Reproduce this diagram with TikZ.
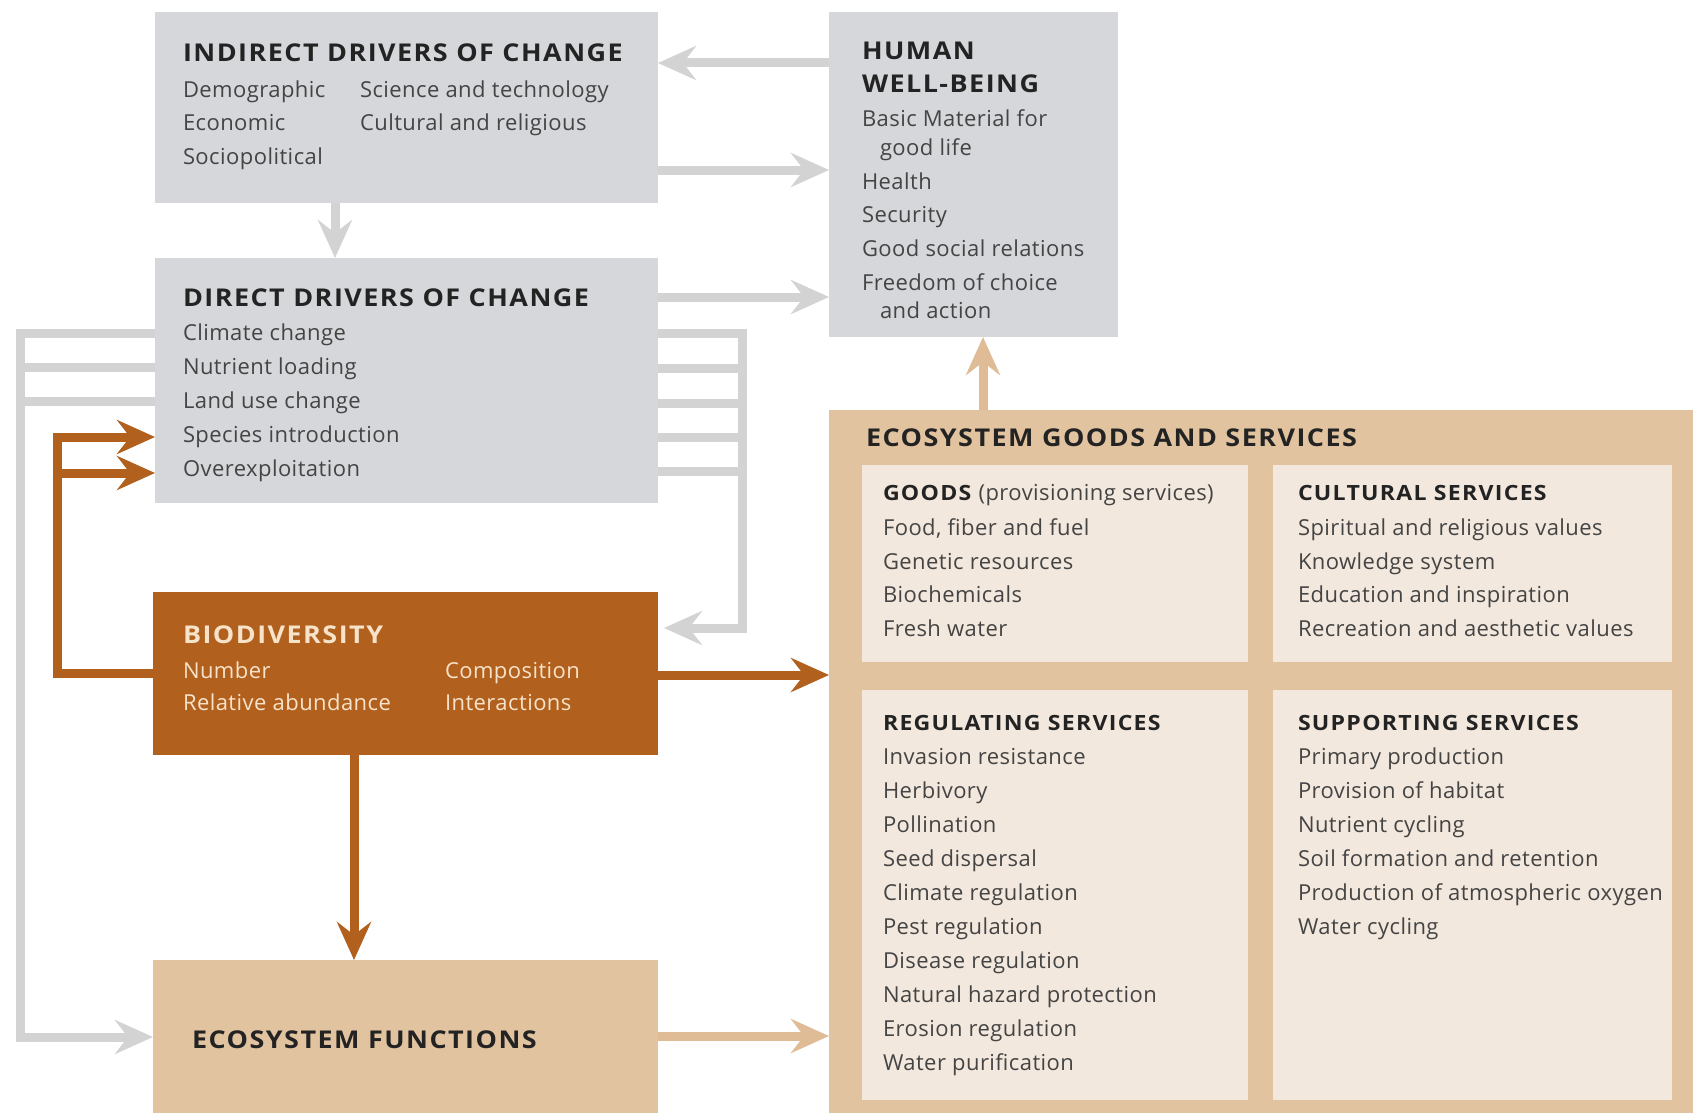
\documentclass[tikz,border=0pt]{standalone}
\usepackage{fontspec}
\setmainfont{Open Sans}
\newfontfamily\ttlfont[LetterSpace=6,FakeStretch=1.1]{Open Sans}
\newfontfamily\sttlfont[LetterSpace=6,FakeStretch=1.1]{Open Sans}
\newfontfamily\bodyfont[LetterSpace=2]{Open Sans}
\usetikzlibrary{arrows.meta}
\definecolor{boxgray}{HTML}{D5D7DA}
\definecolor{linegray}{HTML}{D3D3D4}
\definecolor{brn}{HTML}{B2601E}
\definecolor{tanc}{HTML}{E2C3A0}
\definecolor{tanarrow}{HTML}{E0BC96}
\definecolor{creambox}{HTML}{F3E8DD}
\definecolor{txt}{HTML}{444444}
\definecolor{ttltxt}{HTML}{232323}
\definecolor{lighttxt}{HTML}{F7E3CA}
\tikzset{
  box/.style={rectangle, draw=none, inner sep=0pt, outer sep=0pt, anchor=north west},
  body/.style={anchor=base west, inner sep=0pt, outer sep=0pt, text=txt, font=\bodyfont\fontsize{22}{26}\selectfont},
  ttl/.style={anchor=base west, inner sep=0pt, outer sep=0pt, text=ttltxt, font=\ttlfont\bfseries\fontsize{24.5}{28}\selectfont},
  sttl/.style={anchor=base west, inner sep=0pt, outer sep=0pt, text=ttltxt, font=\sttlfont\bfseries\fontsize{21}{25}\selectfont},
  gline/.style={line width=9pt, draw=linegray, line join=miter},
  tipA/.style={-{Stealth[length=38pt,width=34pt,inset=13pt]}},
  garrow/.style={gline, tipA},
  bline/.style={line width=9pt, draw=brn, line join=miter},
  barrow/.style={bline, tipA},
  tarrow/.style={line width=9pt, draw=tanarrow, tipA},
}
\begin{document}
\begin{tikzpicture}[x=1pt,y=-1pt]
\useasboundingbox (0,0) rectangle (1693,1113);
\fill[white] (0,0) rectangle (1693,1113);

% boxes
\node[box, fill=boxgray, minimum width=503pt, minimum height=191pt] (ind) at (155,12) {};
\node[box, fill=boxgray, minimum width=289pt, minimum height=325pt] (hwb) at (829,12) {};
\node[box, fill=boxgray, minimum width=503pt, minimum height=245pt] (dd) at (155,258) {};
\node[box, fill=brn, minimum width=505pt, minimum height=163pt] (bio) at (153,592) {};
\node[box, fill=tanc, minimum width=505pt, minimum height=153pt] (ef) at (153,960) {};
\node[box, fill=tanc, minimum width=864pt, minimum height=703pt] (egs) at (829,410) {};
\node[box, fill=creambox, minimum width=386pt, minimum height=197pt] (goods) at (862,465) {};
\node[box, fill=creambox, minimum width=399pt, minimum height=197pt] (cult) at (1273,465) {};
\node[box, fill=creambox, minimum width=386pt, minimum height=410pt] (reg) at (862,690) {};
\node[box, fill=creambox, minimum width=399pt, minimum height=410pt] (supp) at (1273,690) {};

% helper coordinates
\coordinate (h1) at (0,63);
\coordinate (h2) at (0,170);
\coordinate (h3) at (0,297);
\coordinate (v1) at (335,0);
\coordinate (v2) at (983,0);
\coordinate (v3) at (354,0);
\coordinate (h4) at (0,675);
\coordinate (h5) at (0,1036);
\coordinate (lx1) at (20,333);
\coordinate (lx2) at (20,367);
\coordinate (lx3) at (20,401);
\coordinate (lbot) at (20,1037);
\coordinate (rx1) at (742,333);
\coordinate (rx2) at (742,368);
\coordinate (rx3) at (742,403);
\coordinate (rx4) at (742,437);
\coordinate (rx5) at (742,471);
\coordinate (rbot) at (742,628);
\coordinate (fb1) at (57,437);
\coordinate (fb2) at (57,473);
\coordinate (fbb) at (57,673);

% connectors
\draw[garrow] (hwb.west |- h1) -- (ind.east |- h1);
\draw[garrow] (ind.east |- h2) -- (hwb.west |- h2);
\draw[garrow] (dd.east |- h3) -- (hwb.west |- h3);
\draw[garrow] (ind.south -| v1) -- (dd.north -| v1);
\draw[tarrow] (egs.north -| v2) -- (hwb.south -| v2);
\draw[barrow] (bio.east |- h4) -- (egs.west |- h4);
\draw[barrow] (bio.south -| v3) -- (ef.north -| v3);
\draw[tarrow] (ef.east |- h5) -- (egs.west |- h5);

\draw[garrow] (dd.west |- lx1) -- (lx1) -- (lbot) -- (ef.west |- lbot);
\draw[gline] (dd.west |- lx2) -- (lx2);
\draw[gline] (dd.west |- lx3) -- (lx3);

\draw[garrow, shorten >=6pt] (dd.east |- rx1) -- (rx1) -- (rbot) -- (bio.east |- rbot);
\draw[gline] (dd.east |- rx2) -- (rx2);
\draw[gline] (dd.east |- rx3) -- (rx3);
\draw[gline] (dd.east |- rx4) -- (rx4);
\draw[gline] (dd.east |- rx5) -- (rx5);

\draw[barrow] (bio.west |- fbb) -- (fbb) -- (fb1) -- (dd.west |- fb1);
\draw[barrow] (fb2) -- (dd.west |- fb2);

% texts: indirect drivers
\node[ttl] (ind-t) at (183,62) {INDIRECT DRIVERS OF CHANGE};
\node[body] (ind-1) at (183,98) {Demographic};
\node[body] (ind-2) at (183,131) {Economic};
\node[body] (ind-3) at (183,164) {Sociopolitical};
\node[body] (ind-4) at (360,98) {Science and technology};
\node[body] (ind-5) at (360,131) {Cultural and religious};

% human well-being
\node[ttl] (hwb-t1) at (862,60) {HUMAN};
\node[ttl] (hwb-t2) at (862,93) {WELL-BEING};
\node[body] (hwb-1) at (862,127) {Basic Material for};
\node[body] (hwb-2) at (880,155) {good life};
\node[body] (hwb-3) at (862,189) {Health};
\node[body] (hwb-4) at (862,222) {Security};
\node[body] (hwb-5) at (862,256) {Good social relations};
\node[body] (hwb-6) at (862,290) {Freedom of choice};
\node[body] (hwb-7) at (880,318) {and action};

% direct drivers
\node[ttl] (dd-t) at (183,306) {DIRECT DRIVERS OF CHANGE};
\foreach \t [count=\i] in {Climate change, Nutrient loading, Land use change, Species introduction, Overexploitation}
  \node[body] (dd-\i) at (183,{306+34*\i}) {\t};

% biodiversity
\node[ttl, text=lighttxt] (bio-t) at (183,643) {BIODIVERSITY};
\node[body, text=lighttxt] (bio-1) at (183,678) {Number};
\node[body, text=lighttxt] (bio-2) at (183,710) {Relative abundance};
\node[body, text=lighttxt] (bio-3) at (445,678) {Composition};
\node[body, text=lighttxt] (bio-4) at (445,710) {Interactions};

% ecosystem functions
\node[ttl] (ef-t) at (192,1048) {ECOSYSTEM FUNCTIONS};

% ecosystem goods and services
\node[ttl] (egs-t) at (866,446) {ECOSYSTEM GOODS AND SERVICES};

\node[sttl] (goods-t) at (883,500) {GOODS {\bodyfont\mdseries\fontsize{22}{26}\selectfont\color{txt} (provisioning services)}};
\foreach \t [count=\i] in {{Food, fiber and fuel}, Genetic resources, Biochemicals, Fresh water}
  \node[body] (goods-\i) at (883,{502+33.5*\i}) {\t};

\node[sttl] (cult-t) at (1298,500) {CULTURAL SERVICES};
\foreach \t [count=\i] in {Spiritual and religious values, Knowledge system, Education and inspiration, Recreation and aesthetic values}
  \node[body] (cult-\i) at (1298,{502+33.5*\i}) {\t};

\node[sttl] (reg-t) at (883,730) {REGULATING SERVICES};
\foreach \t [count=\i] in {Invasion resistance, Herbivory, Pollination, Seed dispersal, Climate regulation, Pest regulation, Disease regulation, Natural hazard protection, Erosion regulation, Water purification}
  \node[body] (reg-\i) at (883,{730.5+34*\i}) {\t};

\node[sttl] (supp-t) at (1298,730) {SUPPORTING SERVICES};
\foreach \t [count=\i] in {Primary production, Provision of habitat, Nutrient cycling, Soil formation and retention, Production of atmospheric oxygen, Water cycling}
  \node[body] (supp-\i) at (1298,{730.5+34*\i}) {\t};
\end{tikzpicture}
\end{document}
